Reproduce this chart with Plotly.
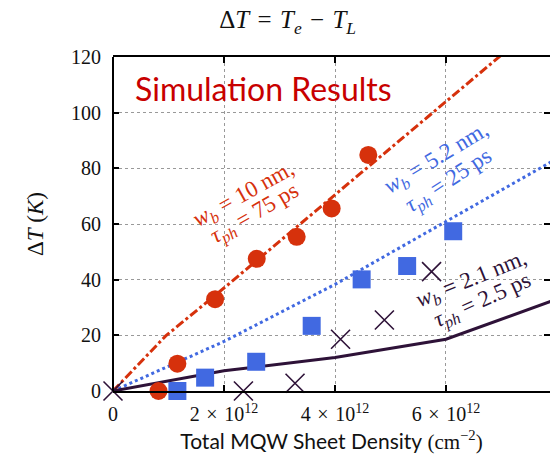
import plotly.graph_objects as go

# x in units of 1e12 cm^-2, y in K
circ_x = [0.82, 1.16, 1.84, 2.59, 3.31, 3.94, 4.60]
circ_y = [0.0, 9.8, 33.0, 47.5, 55.4, 65.6, 84.8]

sq_x = [1.16, 1.66, 2.58, 3.58, 4.48, 5.30, 6.13]
sq_y = [0.0, 4.8, 10.5, 23.4, 40.1, 44.9, 57.4]

cross_x = [0.0, 2.35, 3.28, 4.10, 4.89, 5.74]
cross_y = [0.0, 0.0, 2.8, 18.6, 25.5, 42.9]

red_line_x = [0, 0.95, 2, 4, 6, 8]
red_line_y = [0, 19.8, 37.0, 70.5, 104.0, 137.5]

blue_line_x = [0, 2, 4, 6, 8]
blue_line_y = [0, 17.8, 38.3, 60.8, 83.5]

purple_line_x = [0, 2, 4, 6, 8]
purple_line_y = [0, 7.3, 12.0, 18.6, 33.0]

SP = "\u2004"
x_tickvals = [0, 2, 4, 6]
x_ticktext = ["0", f"2{SP}×{SP}10<sup>12</sup>", f"4{SP}×{SP}10<sup>12</sup>", f"6{SP}×{SP}10<sup>12</sup>"]
y_tickvals = [0, 20, 40, 60, 80, 100, 120]

RED = "#d6310c"
BLUE = "#4169e1"
PURPLE = "#2e1238"
SERIF = "Liberation Serif"
SANS = "Lato"

fig = go.Figure()
fig.add_trace(go.Scatter(x=red_line_x, y=red_line_y, mode="lines",
                         line=dict(color=RED, width=3, dash="dashdot"), showlegend=False))
fig.add_trace(go.Scatter(x=blue_line_x, y=blue_line_y, mode="lines",
                         line=dict(color=BLUE, width=3, dash="dot"), showlegend=False))
fig.add_trace(go.Scatter(x=purple_line_x, y=purple_line_y, mode="lines",
                         line=dict(color=PURPLE, width=3), showlegend=False))
fig.add_trace(go.Scatter(x=circ_x, y=circ_y, mode="markers",
                         marker=dict(symbol="circle", size=18, color=RED), showlegend=False,
                         cliponaxis=False))
fig.add_trace(go.Scatter(x=sq_x, y=sq_y, mode="markers",
                         marker=dict(symbol="square", size=18, color=BLUE), showlegend=False,
                         cliponaxis=False))
fig.add_trace(go.Scatter(x=cross_x, y=cross_y, mode="markers",
                         marker=dict(symbol="x-thin", size=19, color=PURPLE,
                                     line=dict(color=PURPLE, width=1.6)),
                         showlegend=False, cliponaxis=False))

anns = [
    ("<i>w<sub>b</sub></i> = 10 nm,", 2.36, 70.5, -29, RED),
    ("<i>τ<sub>ph</sub></i> = 75 ps", 2.56, 63.5, -30, RED),
    ("<i>w<sub>b</sub></i> = 5.2 nm,", 5.83, 83.3, -31, BLUE),
    ("<i>τ<sub>ph</sub></i> = 25 ps", 6.06, 75.3, -33, BLUE),
    ("<i>w<sub>b</sub></i> = 2.1 nm,", 6.46, 39.8, -22, PURPLE),
    ("<i>τ<sub>ph</sub></i> = 2.5 ps", 6.66, 32.2, -24, PURPLE),
]
for txt, ax_, ay_, ang, col in anns:
    fig.add_annotation(x=ax_, y=ay_, xref="x", yref="y", text=txt, showarrow=False,
                       textangle=ang, font=dict(family=SERIF, size=23, color=col))

fig.add_annotation(x=0.045, y=0.905, xref="paper", yref="paper", xanchor="left", yanchor="middle",
                   text="Simulation Results", showarrow=False,
                   font=dict(family=SANS, size=32, color="#c80000"))

# left frame line
fig.add_shape(type="line", xref="paper", yref="paper", x0=0, x1=0, y0=0, y1=1,
              line=dict(color="black", width=2))

fig.update_layout(
    width=550, height=457,
    margin=dict(l=113, r=0, t=57, b=66),
    paper_bgcolor="white", plot_bgcolor="white",
    font=dict(family=SERIF, size=20, color="#111"),
    title=dict(text=f"Δ<i>T</i>{SP}={SP}<i>T<sub>e</sub></i>{SP}−{SP}<i>T<sub>L</sub></i>",
               x=0.523, xanchor="center", y=0.957, yanchor="middle",
               font=dict(family=SERIF, size=25, color="#111")),
    xaxis=dict(range=[0, 7.874], tickvals=x_tickvals, ticktext=x_ticktext,
               showline=True, linecolor="black", linewidth=2, mirror="ticks",
               ticks="inside", ticklen=6, tickwidth=1.5, tickcolor="black",
               showgrid=True, gridcolor="#999", griddash="dot", gridwidth=1,
               zeroline=False, ticklabelstandoff=4,
               title=dict(text=f'<span style="font-family:{SANS}">Total MQW Sheet Density</span> (cm<sup>−2</sup>)',
                          font=dict(family=SERIF, size=21), standoff=10),
               tickfont=dict(family=SERIF, size=20)),
    yaxis=dict(range=[0, 120], tickvals=y_tickvals,
               showline=False, mirror="ticks",
               ticks="inside", ticklen=6, tickwidth=1.5, tickcolor="black",
               showgrid=True, gridcolor="#999", griddash="dot", gridwidth=1,
               zeroline=False, ticklabelstandoff=11,
               title=dict(text="Δ<i>T</i> (<i>K</i>)", font=dict(family=SERIF, size=23), standoff=20),
               tickfont=dict(family=SERIF, size=20)),
)

fig.write_html("out.html")
